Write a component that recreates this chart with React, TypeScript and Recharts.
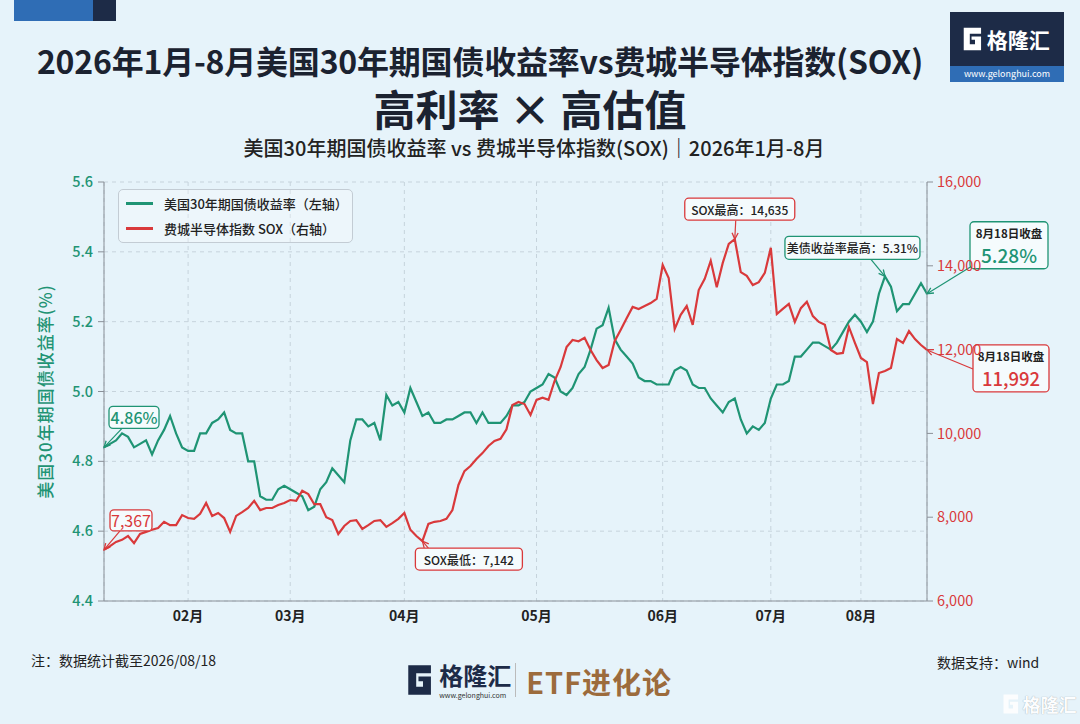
import React from 'react';
import { LineChart, Line, XAxis, YAxis, CartesianGrid, Legend, ReferenceDot } from 'recharts';

const FONT = '"Noto Sans CJK SC", "Noto Sans", sans-serif';
const GREEN = '#1f9474';
const RED = '#d9393b';
const BG = '#e6f3fa';
const NAVY = '#1d2b47';

// x axis: trading-day index, month starts labelled
const MONTH_TICKS = [14, 31, 50, 72, 93, 111, 126];
const MONTH_LABELS = ['02月', '03月', '04月', '05月', '06月', '07月', '08月'];
const YIELD_TICKS = [4.4, 4.6, 4.8, 5.0, 5.2, 5.4, 5.6];
const SOX_TICKS = [6000, 8000, 10000, 12000, 14000, 16000];

// US 30Y treasury yield (%)
const YIELD_30Y = [
  4.84, 4.85, 4.86, 4.88, 4.87, 4.84, 4.85, 4.86, 4.82, 4.86,
  4.89, 4.93, 4.88, 4.84, 4.83, 4.83, 4.88, 4.88, 4.91, 4.92,
  4.94, 4.89, 4.88, 4.88, 4.80, 4.80, 4.70, 4.69, 4.69, 4.72,
  4.73, 4.72, 4.71, 4.70, 4.66, 4.67, 4.72, 4.74, 4.78, 4.76,
  4.74, 4.86, 4.92, 4.92, 4.90, 4.91, 4.86, 4.99, 4.96, 4.97,
  4.94, 5.01, 4.97, 4.93, 4.94, 4.91, 4.91, 4.92, 4.92, 4.93,
  4.94, 4.94, 4.91, 4.94, 4.91, 4.91, 4.91, 4.93, 4.96, 4.96,
  4.97, 5.00, 5.01, 5.02, 5.05, 5.04, 5.00, 4.99, 5.01, 5.05,
  5.07, 5.12, 5.18, 5.19, 5.24, 5.15, 5.12, 5.10, 5.08, 5.04,
  5.03, 5.03, 5.02, 5.02, 5.02, 5.06, 5.07, 5.06, 5.02, 5.01,
  5.01, 4.98, 4.96, 4.94, 4.97, 4.98, 4.92, 4.88, 4.90, 4.89,
  4.91, 4.98, 5.02, 5.02, 5.03, 5.10, 5.10, 5.12, 5.14, 5.14,
  5.13, 5.12, 5.14, 5.17, 5.20, 5.22, 5.20, 5.17, 5.20, 5.28,
  5.33, 5.30, 5.23, 5.25, 5.25, 5.28, 5.31, 5.28,
];

// Philadelphia semiconductor index (SOX)
const SOX_INDEX = [
  7220, 7310, 7410, 7460, 7550, 7380, 7600, 7650, 7700, 7740,
  7890, 7810, 7810, 8050, 7980, 7960, 8080, 8340, 8030, 8100,
  7980, 7650, 8030, 8120, 8220, 8390, 8170, 8220, 8220, 8290,
  8340, 8410, 8390, 8630, 8550, 8310, 8310, 8000, 7930, 7600,
  7790, 7910, 7930, 7720, 7810, 7910, 7930, 7770, 7860, 7960,
  8100, 7700, 7550, 7430, 7840, 7890, 7910, 7960, 8170, 8770,
  9100, 9220, 9390, 9530, 9700, 9820, 9870, 10100, 10680, 10750,
  10700, 10440, 10800, 10850, 10800, 11250, 11580, 12060, 12230, 12200,
  12280, 11990, 11750, 11560, 11630, 12200, 12470, 12750, 13020, 12970,
  13040, 13110, 13210, 14020, 13710, 12490, 12830, 13040, 12590, 13420,
  13690, 14120, 13490, 14070, 14520, 14635, 13850, 13760, 13540, 13610,
  13830, 14430, 12850, 12970, 13090, 12660, 12990, 13140, 12800, 12660,
  12590, 11990, 11900, 11920, 12540, 12160, 11800, 11700, 10700, 11440,
  11490, 11560, 12250, 12160, 12440, 12250, 12110, 11992,
];

const chartData = YIELD_30Y.map((v, i) => ({ idx: i, yield: v, sox: SOX_INDEX[i] }));
const LAST = YIELD_30Y.length - 1;

type TextLine = { text: string; size: number; color: string; weight: number };
type CalloutDef = {
  idx: number;
  axis: 'left' | 'right';
  color: string;
  box: [number, number, number, number]; // dx, dy, w, h relative to the point
  tail: [number, number];
  lines: TextLine[];
};

const dark = (text: string): TextLine => ({ text, size: 12, color: '#222', weight: 500 });
const closeLabel: TextLine = { text: '8月18日收盘', size: 11.5, color: '#222', weight: 700 };

const CALLOUTS: CalloutDef[] = [
  { idx: 0, axis: 'left', color: GREEN, box: [5, -41, 50, 22], tail: [18, -19],
    lines: [{ text: '4.86%', size: 16, color: GREEN, weight: 500 }] },
  { idx: 0, axis: 'right', color: RED, box: [6, -40, 42, 21], tail: [16, -19],
    lines: [{ text: '7,367', size: 16, color: RED, weight: 400 }] },
  { idx: 53, axis: 'right', color: RED, box: [-7, 7, 107, 22], tail: [6, 7], lines: [dark('SOX最低：7,142')] },
  { idx: 105, axis: 'right', color: RED, box: [-50, -41, 110, 22], tail: [1, -19], lines: [dark('SOX最高：14,635')] },
  { idx: 130, axis: 'left', color: GREEN, box: [-100, -40, 135, 23], tail: [-14, -17], lines: [dark('美债收益率最高：5.31%')] },
  { idx: LAST, axis: 'left', color: GREEN, box: [43, -72, 78, 47], tail: [47, -29],
    lines: [closeLabel, { text: '5.28%', size: 19, color: GREEN, weight: 500 }] },
  { idx: LAST, axis: 'right', color: RED, box: [46, -5, 76, 47], tail: [46, 19],
    lines: [closeLabel, { text: '11,992', size: 18.5, color: RED, weight: 500 }] },
];

const Callout = ({ cx = 0, cy = 0, def }: { cx?: number; cy?: number; def: CalloutDef }) => {
  const [dx, dy, w, h] = def.box;
  const sx = cx + def.tail[0];
  const sy = cy + def.tail[1];
  const ang = Math.atan2(cy - sy, cx - sx);
  const hl = 7;
  const a1 = ang + Math.PI - 0.45;
  const a2 = ang + Math.PI + 0.45;
  const head = `${cx + hl * Math.cos(a1)},${cy + hl * Math.sin(a1)} ${cx},${cy} ${cx + hl * Math.cos(a2)},${cy + hl * Math.sin(a2)}`;
  const bx = cx + dx;
  const by = cy + dy;
  return (
    <g>
      <line x1={sx} y1={sy} x2={cx} y2={cy} stroke={def.color} strokeWidth={1.2} />
      <polyline points={head} fill="none" stroke={def.color} strokeWidth={1.3} />
      <rect x={bx} y={by} width={w} height={h} rx={4} fill="#f5fbfd" stroke={def.color} strokeWidth={1.3} />
      {def.lines.length === 1 ? (
        <text x={bx + w / 2} y={by + h / 2} textAnchor="middle" dominantBaseline="central"
          style={{ fontSize: def.lines[0].size, fill: def.lines[0].color, fontWeight: def.lines[0].weight }}>
          {def.lines[0].text}
        </text>
      ) : (
        def.lines.map((l, k) => (
          <text key={k} x={bx + w / 2} y={by + (k === 0 ? 11 : 33)} textAnchor="middle" dominantBaseline="central"
            style={{ fontSize: l.size, fill: l.color, fontWeight: l.weight }}>
            {l.text}
          </text>
        ))
      )}
    </g>
  );
};

const renderLegend = (props: any) => {
  const items = props.payload || [];
  return (
    <div style={{ border: '1px solid #c3ccd4', borderRadius: 5, padding: '1px 4px 1px 7px', background: 'rgba(255,255,255,0.3)' }}>
      {items.map((it: any) => (
        <div key={it.value} style={{ display: 'flex', alignItems: 'center', height: 25 }}>
          <span style={{ display: 'inline-block', width: 27, height: 3, background: it.color, marginRight: 11 }} />
          <span style={{ fontSize: 13, color: '#222', fontWeight: 500 }}>{it.value}</span>
        </div>
      ))}
    </div>
  );
};

const GIcon = ({ size, color }: { size: number; color: string }) => (
  <svg width={size * 0.8} height={size} viewBox="0 0 24 30" style={{ display: 'block' }}>
    <path d="M2 2 H22 V9 H9 V21 H15 V16 H11 V12 H22 V28 H2 Z" fill={color} />
  </svg>
);

export default function App() {
  return (
    <div style={{ position: 'absolute', left: 0, top: 0, width: 1080, height: 724, background: BG, fontFamily: FONT, overflow: 'hidden' }}>
      <div style={{ position: 'absolute', left: 14, top: 0, width: 79, height: 21, background: '#2f6db5' }} />
      <div style={{ position: 'absolute', left: 93, top: 0, width: 23, height: 21, background: NAVY }} />

      <div style={{ position: 'absolute', left: 0, width: 960, top: 38, textAlign: 'center', fontSize: 32, fontWeight: 700, color: '#1b2230', lineHeight: '44px', whiteSpace: 'nowrap', letterSpacing: -0.2 }}>
        2026年1月-8月美国30年期国债收益率vs费城半导体指数(SOX)
      </div>
      <div style={{ position: 'absolute', left: 0, width: 1060, top: 82, textAlign: 'center', fontSize: 42, fontWeight: 700, color: '#1b2230', lineHeight: '52px' }}>
        高利率 × 高估值
      </div>
      <div style={{ position: 'absolute', left: 0, width: 1068, top: 135, textAlign: 'center', fontSize: 20, fontWeight: 500, color: '#222', lineHeight: '26px', whiteSpace: 'nowrap' }}>
        美国30年期国债收益率 vs 费城半导体指数(SOX)｜2026年1月-8月
      </div>

      <div style={{ position: 'absolute', left: 950, top: 12, width: 114, height: 70, background: NAVY }}>
        <div style={{ position: 'absolute', left: 12, top: 14, display: 'flex', alignItems: 'center', gap: 4 }}>
          <GIcon size={26} color="#fff" />
          <span style={{ color: '#fff', fontSize: 21, fontWeight: 700, lineHeight: '26px' }}>格隆汇</span>
        </div>
        <div style={{ position: 'absolute', left: 0, top: 54, width: 114, height: 16, background: '#2f6db5', color: '#fff', fontSize: 9, lineHeight: '16px', textAlign: 'center' }}>
          www.gelonghui.com
        </div>
      </div>

      <div style={{ position: 'absolute', left: 0, top: 0 }}>
        <LineChart width={1080} height={724} data={chartData} margin={{ top: 182, right: 83, bottom: 93, left: 44 }} style={{ fontFamily: FONT }}>
          <CartesianGrid yAxisId="left" stroke="#c6d3dc" strokeDasharray="4 4" />
          <XAxis dataKey="idx" type="number" domain={[0, LAST]} ticks={MONTH_TICKS} height={30}
            tickFormatter={(v: number) => MONTH_LABELS[MONTH_TICKS.indexOf(v)]}
            tickLine={false} tickMargin={4} stroke="#8a9098"
            tick={{ fill: '#222', fontSize: 14, fontWeight: 700 }} />
          <YAxis yAxisId="left" domain={[4.4, 5.6]} ticks={YIELD_TICKS} width={60} stroke="#8a9098"
            tickFormatter={(v: number) => v.toFixed(1)} tickMargin={5}
            tick={{ fill: GREEN, fontSize: 14.5, fontWeight: 500 }}
            label={{ value: '美国30年期国债收益率(%)', angle: -90, position: 'insideLeft', offset: 2,
              style: { textAnchor: 'middle', fill: GREEN, fontSize: 17, fontWeight: 500, letterSpacing: 1 } }} />
          <YAxis yAxisId="right" orientation="right" domain={[6000, 16000]} ticks={SOX_TICKS} width={70} stroke="#8a9098"
            tickFormatter={(v: number) => v.toLocaleString('en-US')} tickMargin={4}
            tick={{ fill: RED, fontSize: 14.5 }} />
          <Legend layout="vertical" align="center" verticalAlign="middle" content={renderLegend}
            wrapperStyle={{ left: 118, top: 189, width: 'auto' }} />
          <Line yAxisId="left" dataKey="yield" name="美国30年期国债收益率（左轴）" type="linear" stroke={GREEN}
            strokeWidth={2.2} dot={false} isAnimationActive={false} />
          <Line yAxisId="right" dataKey="sox" name="费城半导体指数 SOX（右轴）" type="linear" stroke={RED}
            strokeWidth={2.2} dot={false} isAnimationActive={false} />
          {CALLOUTS.map((c, k) => (
            <ReferenceDot key={k} yAxisId={c.axis} x={c.idx} y={c.axis === 'left' ? YIELD_30Y[c.idx] : SOX_INDEX[c.idx]}
              r={0} ifOverflow="visible" shape={(p: any) => <Callout cx={p.cx} cy={p.cy} def={c} />} />
          ))}
        </LineChart>
      </div>

      <div style={{ position: 'absolute', left: 31, top: 650, fontSize: 14, color: '#222', lineHeight: '20px' }}>注：数据统计截至2026/08/18</div>
      <div style={{ position: 'absolute', left: 937, top: 652, fontSize: 14, color: '#222', lineHeight: '20px' }}>数据支持：wind</div>

      <div style={{ position: 'absolute', left: 406, top: 663, display: 'flex', alignItems: 'flex-start' }}>
        <GIcon size={34} color={NAVY} />
        <div style={{ marginLeft: 6, width: 70, height: 36, position: 'relative' }}>
          <div style={{ position: 'absolute', left: 0, top: -2, fontSize: 24, fontWeight: 700, color: NAVY, lineHeight: '28px', whiteSpace: 'nowrap' }}>格隆汇</div>
          <div style={{ position: 'absolute', left: 0, top: 28, fontSize: 7, color: '#333', lineHeight: '8px', whiteSpace: 'nowrap' }}>www.gelonghui.com</div>
        </div>
        <div style={{ width: 1, height: 34, background: '#bbb', marginLeft: 6, marginRight: 10 }} />
        <span style={{ fontSize: 29, fontWeight: 700, color: '#9c6b3c', lineHeight: '36px', letterSpacing: 1, whiteSpace: 'nowrap' }}>ETF进化论</span>
      </div>

      <div style={{ position: 'absolute', left: 1002, top: 692, display: 'flex', alignItems: 'center', gap: 3, opacity: 0.9, whiteSpace: 'nowrap' }}>
        <GIcon size={22} color="#ffffff" />
        <span style={{ fontSize: 18, color: '#fff', fontWeight: 700, textShadow: '0 0 1px #8a9198', lineHeight: '24px' }}>格隆汇</span>
      </div>
    </div>
  );
}
